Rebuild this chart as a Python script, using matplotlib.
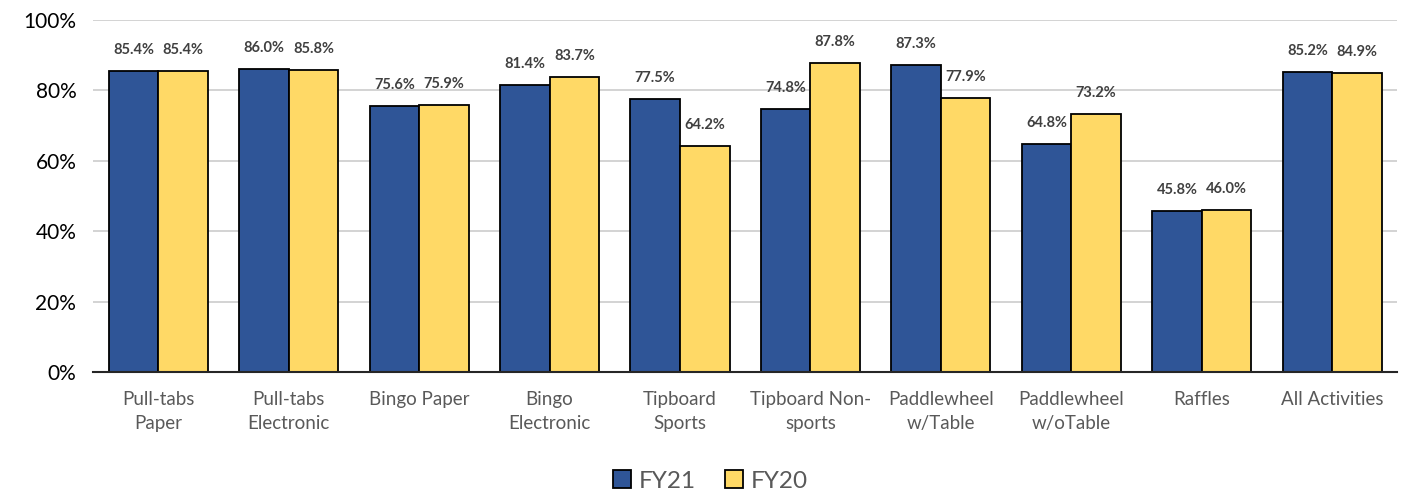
import matplotlib
matplotlib.use("Agg")
import matplotlib.pyplot as plt
import numpy as np

categories = ["Pull-tabs\nPaper", "Pull-tabs\nElectronic", "Bingo Paper", "Bingo\nElectronic",
              "Tipboard\nSports", "Tipboard Non-\nsports", "Paddlewheel\nw/Table",
              "Paddlewheel\nw/oTable", "Raffles", "All Activities"]
fy21 = [85.4, 86.0, 75.6, 81.4, 77.5, 74.8, 87.3, 64.8, 45.8, 85.2]
fy20 = [85.4, 85.8, 75.9, 83.7, 64.2, 87.8, 77.9, 73.2, 46.0, 84.9]
yticks = [0, 20, 40, 60, 80, 100]

plt.rcParams['font.family'] = ['Lato', 'DejaVu Sans']

fig = plt.figure(figsize=(14.01, 4.94), dpi=100)
ax = fig.add_axes([0.0664, 0.247, 0.931, 0.7125])

x = np.arange(len(categories))
w = 0.38
b1 = ax.bar(x - w/2, fy21, w, color="#2F5597", edgecolor="black", linewidth=1.3, label="FY21", zorder=3)
b2 = ax.bar(x + w/2, fy20, w, color="#FFD966", edgecolor="black", linewidth=1.3, label="FY20", zorder=3)

for bars, vals in ((b1, fy21), (b2, fy20)):
    for r, v in zip(bars, vals):
        ax.text(r.get_x() + r.get_width()/2, v + 4.0, f"{v:.1f}%", ha="center", va="bottom",
                fontsize=10.5, fontweight="bold", color="#404040")

ax.set_xlim(-0.5, len(categories) - 0.5)
ax.set_ylim(0, 100)
ax.set_yticks(yticks)
ax.set_yticklabels([f"{t}%" for t in yticks], fontsize=15, color="black")
ax.set_xticks(x)
ax.set_xticklabels(categories, fontsize=13.5, color="#595959", linespacing=1.5)
ax.tick_params(axis="both", length=0)
ax.tick_params(axis="x", pad=14)
ax.tick_params(axis="y", pad=12)
ax.yaxis.grid(True, color="#D0D0D0", linewidth=1.3, zorder=0)
for s in ("left", "right", "top"):
    ax.spines[s].set_visible(False)
ax.spines["bottom"].set_color("#262626")
ax.spines["bottom"].set_linewidth(1.5)
ax.spines["bottom"].set_zorder(4)

fig.legend(loc="center", bbox_to_anchor=(0.507, 0.026), ncol=2, frameon=False, fontsize=17.5,
           handlelength=0.75, handleheight=0.75, handletextpad=0.3, columnspacing=1.2,
           labelcolor="#595959")

fig.savefig("out.png", dpi=100)
